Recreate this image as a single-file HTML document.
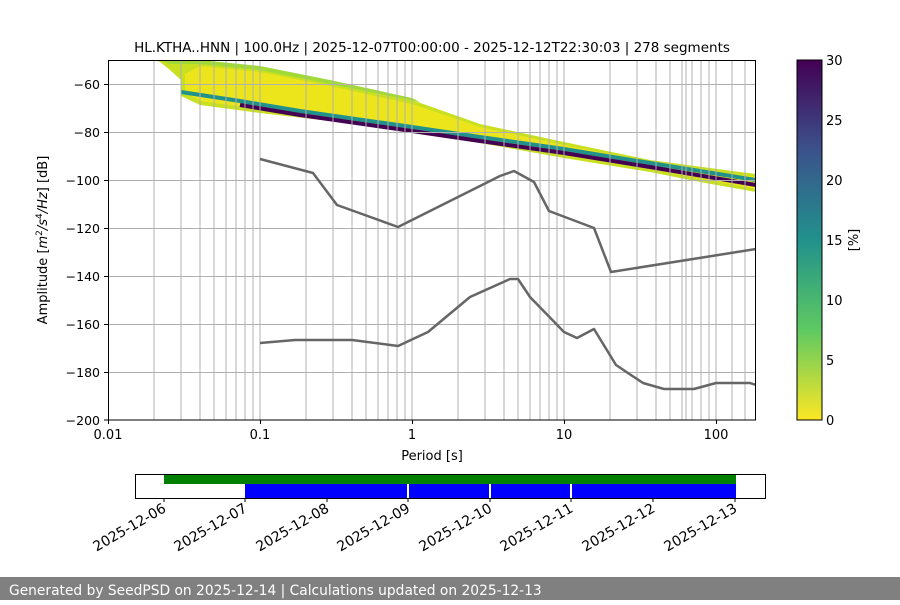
<!DOCTYPE html>
<html><head><meta charset="utf-8"><style>
body{margin:0;background:#fff;width:900px;height:600px;overflow:hidden;font-family:"Liberation Sans","DejaVu Sans",sans-serif}
</style></head><body>
<svg width="900" height="600" xmlns="http://www.w3.org/2000/svg" font-family="DejaVu Sans, Liberation Sans, sans-serif">
<defs>
<linearGradient id="vir" x1="0" y1="1" x2="0" y2="0">
<stop offset="0" stop-color="#fde725"/><stop offset="0.25" stop-color="#5ec962"/><stop offset="0.5" stop-color="#21918c"/><stop offset="0.75" stop-color="#3b528b"/><stop offset="1" stop-color="#440154"/>
</linearGradient>
<clipPath id="pc"><rect x="108" y="60" width="648" height="360"/></clipPath>
</defs>
<text x="432" y="52" font-size="13.5" text-anchor="middle">HL.KTHA..HNN | 100.0Hz | 2025-12-07T00:00:00 - 2025-12-12T22:30:03 | 278 segments</text>
<g clip-path="url(#pc)">
<polygon fill="#c8e020" points="154,60 200,62 260,68 330,82 412,100 480,124 564,142 650,160 740,172 756,174 756,192 700,182 650,172 564,158 480,143 412,133 330,121 260,113 200,105 181,96 181,80 170,70 160,62"/>
<polygon fill="#ece51b" points="200,66 260,72 330,86 412,104 480,127 564,145 650,162 740,175 756,177 756,189 650,169 564,154 480,140 412,129 330,117 260,109 200,101 185,92 185,74"/>
<polygon fill="#a0da39" points="160,60 200,60 260,66 330,80 412,98 420,102 330,84 260,70 200,64 170,64"/>
<polyline fill="none" stroke="#21918c" stroke-width="4" points="181,92 240,101 300,111 412,127 480,137 564,149 650,163 756,180"/>
<polyline fill="none" stroke="#440154" stroke-width="4" points="240,105 300,115 412,131 480,141 564,153 650,167 756,185"/>
</g>
<g stroke="#b0b0b0" stroke-width="1">
<line x1="108" y1="84.5" x2="756" y2="84.5"/><line x1="108" y1="132.5" x2="756" y2="132.5"/><line x1="108" y1="180.5" x2="756" y2="180.5"/><line x1="108" y1="228.5" x2="756" y2="228.5"/><line x1="108" y1="276.5" x2="756" y2="276.5"/><line x1="108" y1="324.5" x2="756" y2="324.5"/><line x1="108" y1="372.5" x2="756" y2="372.5"/>
<g id="dec">
<line x1="154" y1="60" x2="154" y2="420"/><line x1="181" y1="60" x2="181" y2="420"/><line x1="200" y1="60" x2="200" y2="420"/><line x1="214" y1="60" x2="214" y2="420"/><line x1="226" y1="60" x2="226" y2="420"/><line x1="236" y1="60" x2="236" y2="420"/><line x1="245" y1="60" x2="245" y2="420"/><line x1="253" y1="60" x2="253" y2="420"/><line x1="260" y1="60" x2="260" y2="420"/>
</g>
<use href="#dec" x="152"/><use href="#dec" x="304"/><use href="#dec" x="456"/>
<line x1="108.5" y1="60" x2="108.5" y2="420"/>
<line x1="686" y1="60" x2="686" y2="420"/><line x1="716" y1="60" x2="716" y2="420"/><line x1="732" y1="60" x2="732" y2="420"/><line x1="745" y1="60" x2="745" y2="420"/>
</g>
<g clip-path="url(#pc)" fill="none" stroke="#666" stroke-width="2.5" stroke-linejoin="round">
<polyline points="260,159 313,173 337,205 398,227 500,176 514,171 534,182 549,211 594,228 611,272 756,249"/>
<polyline points="260,343 295,340 352,340 398,346 428,332 470,297 510,279 518,279 530,297 564,332 577,338 594,329 616,365 643,383 664,389 694,389 716,383 750,383 756,385"/>
</g>
<rect x="108.5" y="60.5" width="647" height="359.5" fill="none" stroke="#000" stroke-width="1"/>
<g font-size="12.5" text-anchor="end">
<text x="100" y="89">−60</text><text x="100" y="137">−80</text><text x="100" y="185">−100</text><text x="100" y="233">−120</text><text x="100" y="281">−140</text><text x="100" y="329">−160</text><text x="100" y="377">−180</text><text x="100" y="425">−200</text>
</g>
<g stroke="#000"><line x1="104" y1="84.5" x2="108" y2="84.5"/><line x1="104" y1="132.5" x2="108" y2="132.5"/><line x1="104" y1="180.5" x2="108" y2="180.5"/><line x1="104" y1="228.5" x2="108" y2="228.5"/><line x1="104" y1="276.5" x2="108" y2="276.5"/><line x1="104" y1="324.5" x2="108" y2="324.5"/><line x1="104" y1="372.5" x2="108" y2="372.5"/><line x1="104" y1="420" x2="108" y2="420"/>
<line x1="108.5" y1="420" x2="108.5" y2="424"/><line x1="260.5" y1="420" x2="260.5" y2="424"/><line x1="412.5" y1="420" x2="412.5" y2="424"/><line x1="564.5" y1="420" x2="564.5" y2="424"/><line x1="716.5" y1="420" x2="716.5" y2="424"/></g>
<g font-size="13" text-anchor="middle"><text x="108" y="439">0.01</text><text x="260" y="439">0.1</text><text x="412" y="439">1</text><text x="564" y="439">10</text><text x="716" y="439">100</text>
<text x="432" y="460">Period [s]</text></g>
<text transform="translate(47,240) rotate(-90)" font-size="13" text-anchor="middle">Amplitude [<tspan font-style="italic">m</tspan><tspan font-size="9" dy="-5">2</tspan><tspan dy="5" font-style="italic">/s</tspan><tspan font-size="9" dy="-5">4</tspan><tspan dy="5" font-style="italic">/Hz</tspan>] [dB]</text>
<rect x="797" y="60" width="25" height="360" fill="url(#vir)" stroke="#000" stroke-width="1"/>
<g font-size="13"><text x="826" y="425">0</text><text x="826" y="365">5</text><text x="826" y="305">10</text><text x="826" y="245">15</text><text x="826" y="185">20</text><text x="826" y="125">25</text><text x="826" y="65">30</text></g>
<text transform="translate(858,240) rotate(-90)" font-size="13" text-anchor="middle">[%]</text>
<rect x="135.5" y="474.5" width="630" height="24" fill="#fff" stroke="#000"/>
<rect x="164" y="475" width="572" height="9" fill="#008000"/>
<rect x="245" y="484" width="491" height="14" fill="#0000ff"/>
<g stroke="#fff" stroke-width="2"><line x1="408" y1="484" x2="408" y2="498"/><line x1="490" y1="484" x2="490" y2="498"/><line x1="571" y1="484" x2="571" y2="498"/></g>
<g stroke="#000"><line x1="164" y1="498" x2="164" y2="502"/><line x1="245" y1="498" x2="245" y2="502"/><line x1="327" y1="498" x2="327" y2="502"/><line x1="408" y1="498" x2="408" y2="502"/><line x1="490" y1="498" x2="490" y2="502"/><line x1="571" y1="498" x2="571" y2="502"/><line x1="653" y1="498" x2="653" y2="502"/><line x1="735" y1="498" x2="735" y2="502"/></g>
<g font-size="14" text-anchor="end">
<text transform="translate(167,511) rotate(-30)">2025-12-06</text>
<text transform="translate(248,511) rotate(-30)">2025-12-07</text>
<text transform="translate(330,511) rotate(-30)">2025-12-08</text>
<text transform="translate(411,511) rotate(-30)">2025-12-09</text>
<text transform="translate(493,511) rotate(-30)">2025-12-10</text>
<text transform="translate(574,511) rotate(-30)">2025-12-11</text>
<text transform="translate(656,511) rotate(-30)">2025-12-12</text>
<text transform="translate(738,511) rotate(-30)">2025-12-13</text>
</g>
<rect x="0" y="577" width="900" height="23" fill="#808080"/>
<text x="9" y="595" font-size="13.8" fill="#fff">Generated by SeedPSD on 2025-12-14 | Calculations updated on 2025-12-13</text>
</svg>
</body></html>
